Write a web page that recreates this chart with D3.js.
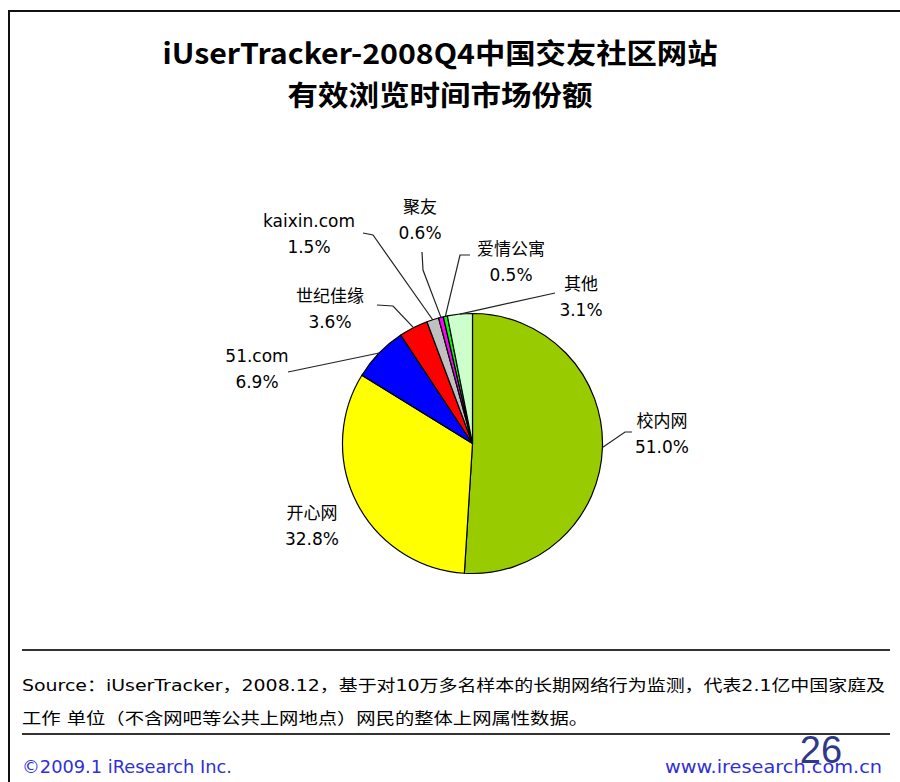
<!DOCTYPE html>
<html>
<head>
<meta charset="utf-8">
<script src="https://cdn.jsdelivr.net/npm/d3@7"></script>
<style>
  html, body { margin: 0; padding: 0; background: #fff; }
  svg { display: block; }
  text { font-family: "DejaVu Sans", "Noto Sans CJK SC", sans-serif; }
</style>
</head>
<body>
<svg id="chart" width="900" height="782"></svg>
<script>
// ---- data ----
const categories = ["校内网", "开心网", "51.com", "世纪佳缘", "kaixin.com", "聚友", "爱情公寓", "其他"];
const values = [51.0, 32.8, 6.9, 3.6, 1.5, 0.6, 0.5, 3.1];
const colors = ["#99CC00", "#FFFF00", "#0000FF", "#FF0000", "#C0C0C0", "#FF00FF", "#00FF00", "#CCFFCC"];
const titleLines = ["iUserTracker-2008Q4中国交友社区网站", "有效浏览时间市场份额"];
const sourceLines = [
  "Source：iUserTracker，2008.12，基于对10万多名样本的长期网络行为监测，代表2.1亿中国家庭及",
  "工作 单位（不含网吧等公共上网地点）网民的整体上网属性数据。"
];
const footerLeft = "©2009.1 iResearch Inc.";
const footerRight = "www.iresearch.com.cn";
const pageNumber = "26";

// ---- layout (label placement, not data) ----
const labelLayout = [
  { x: 662, y: 427, knees: [[625, 432], [632, 432]] },
  { x: 312, y: 519, knees: null },
  { x: 257, y: 362, knees: [[288, 372]] },
  { x: 330, y: 302, knees: [[393, 306], [377, 305]] },
  { x: 309, y: 227, knees: [[373, 235], [363, 233]] },
  { x: 420, y: 213, knees: [[423, 270], [422, 252]] },
  { x: 511, y: 255, knees: [[460, 255], [470, 255]] },
  { x: 581, y: 290, knees: [[555, 293]] }
];

const svg = d3.select("#chart");

// border
svg.append("line").attr("x1", 9).attr("y1", 11).attr("x2", 900).attr("y2", 11)
  .attr("stroke", "#111").attr("stroke-width", 2);
svg.append("line").attr("x1", 9).attr("y1", 10).attr("x2", 9).attr("y2", 782)
  .attr("stroke", "#111").attr("stroke-width", 2);

// title
const titleY = [64, 106];
const titleW = [555, 305];
titleLines.forEach((t, i) => {
  svg.append("text")
    .attr("x", 440).attr("y", titleY[i])
    .attr("text-anchor", "middle")
    .attr("font-size", 28).attr("font-weight", "bold")
    .attr("textLength", titleW[i]).attr("lengthAdjust", "spacingAndGlyphs")
    .style("font-family", "'Noto Sans CJK SC', 'DejaVu Sans', sans-serif")
    .attr("fill", "#000")
    .text(t);
});

// pie
const cx = 472.5, cy = 443.5, r = 130;
const data = categories.map((c, i) => ({ name: c, value: values[i], color: colors[i], layout: labelLayout[i] }));
const pie = d3.pie().sort(null).value(d => d.value);
const arcs = pie(data);
const arc = d3.arc().innerRadius(0).outerRadius(r);
const edgeArc = d3.arc().innerRadius(r).outerRadius(r);

const g = svg.append("g").attr("transform", `translate(${cx},${cy})`);
g.selectAll("path.slice").data(arcs).enter().append("path")
  .attr("class", "slice")
  .attr("d", arc)
  .attr("fill", d => d.data.color)
  .attr("stroke", "#000")
  .attr("stroke-width", 1.2)
  .attr("stroke-linejoin", "round");

// leader lines
arcs.forEach(a => {
  const L = a.data.layout;
  if (!L.knees) return;
  const e = edgeArc.centroid(a);
  const pts = [[cx + e[0], cy + e[1]]].concat(L.knees);
  svg.append("path")
    .attr("d", d3.line()(pts))
    .attr("fill", "none")
    .attr("stroke", "#222")
    .attr("stroke-width", 1.2);
});

// labels
arcs.forEach(a => {
  const L = a.data.layout;
  const t = svg.append("text")
    .attr("x", L.x).attr("y", L.y)
    .attr("text-anchor", "middle")
    .attr("font-size", 17)
    .attr("fill", "#000");
  t.append("tspan").attr("x", L.x).text(a.data.name);
  t.append("tspan").attr("x", L.x).attr("dy", 26).text(a.data.value.toFixed(1) + "%");
});

// footer rules
[650, 734].forEach(y => {
  svg.append("line").attr("x1", 22).attr("x2", 890).attr("y1", y).attr("y2", y)
    .attr("stroke", "#333").attr("stroke-width", 2);
});

// source text
const srcY = [691, 724];
const srcW = [863, 566];
sourceLines.forEach((s, i) => {
  svg.append("text")
    .attr("x", 22).attr("y", srcY[i])
    .attr("font-size", 16)
    .attr("textLength", srcW[i]).attr("lengthAdjust", "spacingAndGlyphs")
    .attr("fill", "#000")
    .text(s);
});

// footer
svg.append("text").attr("x", 22).attr("y", 773)
  .attr("font-size", 17).attr("fill", "#2f2fd8")
  .attr("textLength", 210).attr("lengthAdjust", "spacingAndGlyphs")
  .text(footerLeft);
svg.append("text").attr("x", 882).attr("y", 773)
  .attr("text-anchor", "end")
  .attr("font-size", 17).attr("fill", "#2f2fd8")
  .attr("textLength", 217).attr("lengthAdjust", "spacingAndGlyphs")
  .text(footerRight);
svg.append("text").attr("x", 821).attr("y", 763)
  .attr("text-anchor", "middle")
  .attr("font-size", 38).attr("fill", "#2e3a87")
  .style("font-family", "'Liberation Sans', sans-serif")
  .text(pageNumber);
</script>
</body>
</html>
